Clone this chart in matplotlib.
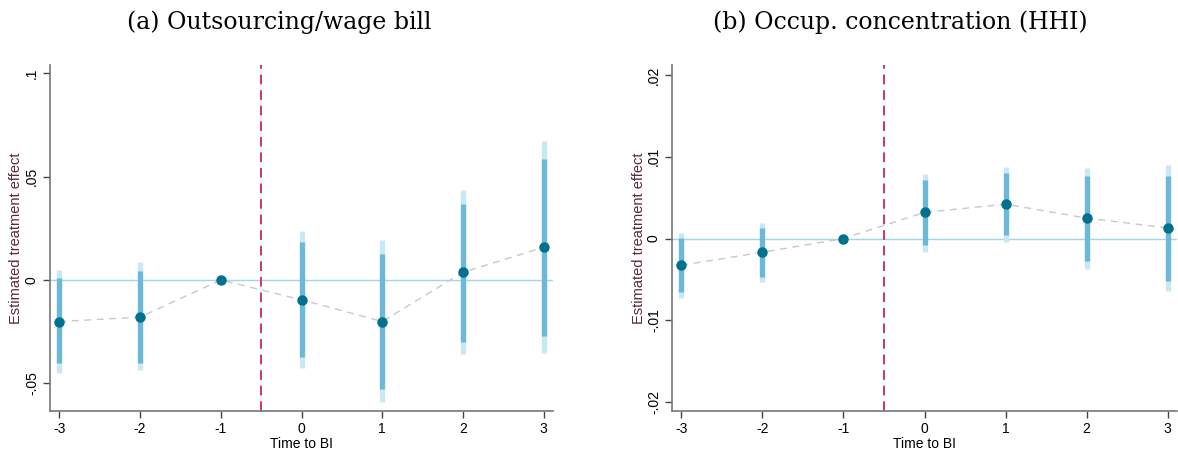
import matplotlib
matplotlib.use("Agg")
import matplotlib.pyplot as plt
import numpy as np

# event time
t = np.array([-3, -2, -1, 0, 1, 2, 3])

# (a) Outsourcing/wage bill
a_est = np.array([-0.0201, -0.0180, 0.0, -0.0096, -0.0201, 0.0037, 0.0158])
a_lo90 = np.array([-0.0403, -0.0400, 0.0, -0.0371, -0.0529, -0.0298, -0.0270])
a_hi90 = np.array([0.0008, 0.0042, 0.0, 0.0183, 0.0128, 0.0369, 0.0587])
a_lo95 = np.array([-0.0449, -0.0436, 0.0, -0.0427, -0.0592, -0.0359, -0.0354])
a_hi95 = np.array([0.0050, 0.0087, 0.0, 0.0236, 0.0191, 0.0434, 0.0670])
a_yticks = [-0.05, 0, 0.05, 0.1]
a_ylabels = ["-.05", "0", ".05", ".1"]

# (b) Occup. concentration (HHI)
b_est = np.array([-0.00326, -0.00167, 0.0, 0.0032, 0.0042, 0.0025, 0.0013])
b_lo90 = np.array([-0.0065, -0.0047, 0.0, -0.0008, 0.0004, -0.0027, -0.0052])
b_hi90 = np.array([0.0001, 0.0013, 0.0, 0.0071, 0.0080, 0.0076, 0.0077])
b_lo95 = np.array([-0.0072, -0.0053, 0.0, -0.0016, -0.0004, -0.0037, -0.0064])
b_hi95 = np.array([0.0007, 0.0019, 0.0, 0.0079, 0.0088, 0.0086, 0.0090])
b_yticks = [-0.02, -0.01, 0, 0.01, 0.02]
b_ylabels = ["-.02", "-.01", "0", ".01", ".02"]

dark = "#00708f"
mid = "#6cb8d8"
light = "#c8e8f4"
zero_c = "#9fd6ea"
vline_c = "#c83a5e"

plt.rcParams["font.family"] = ["Liberation Sans", "DejaVu Sans"]

fig = plt.figure(figsize=(11.78, 4.55), dpi=100)
axA = fig.add_axes([50 / 1178, 44 / 455, 503 / 1178, 346 / 455])
axB = fig.add_axes([672 / 1178, 44 / 455, 505 / 1178, 346 / 455])


def panel(ax, est, lo90, hi90, lo95, hi95, yticks, ylabels, ylim):
    ax.axhline(0, color=zero_c, lw=1.0, zorder=1)
    ax.axvline(-0.5, color=vline_c, lw=1.4, ls=(0, (5, 3)), zorder=1)
    ax.plot(t, est, color="#c8c8c8", lw=1.0, ls=(0, (5, 4)), zorder=2)
    ax.vlines(t, lo95, hi95, color=light, lw=3.8, zorder=3)
    ax.vlines(t, lo90, hi90, color=mid, lw=3.8, zorder=4)
    ax.plot(t, est, "o", color=dark, ms=6.5, zorder=5)
    ax.set_xlim(-3.115, 3.115)
    ax.set_ylim(*ylim)
    ax.set_xticks(t)
    ax.set_xticklabels([str(v) for v in t])
    ax.set_yticks(yticks)
    ax.set_yticklabels(ylabels, rotation=90, va="center")
    for s in ["top", "right"]:
        ax.spines[s].set_visible(False)
    for s in ["left", "bottom"]:
        ax.spines[s].set_color("#777777")
        ax.spines[s].set_linewidth(1.2)
    ax.tick_params(direction="out", length=5, width=1, color="#444444",
                   labelsize=10, pad=3)
    ax.set_xlabel("Time to BI", fontsize=10, labelpad=1)
    ax.set_ylabel("Estimated treatment effect", fontsize=10.5, color="#5a2840",
                  labelpad=1)


panel(axA, a_est, a_lo90, a_hi90, a_lo95, a_hi95, a_yticks, a_ylabels,
      (-0.0634, 0.104))
panel(axB, b_est, b_lo90, b_hi90, b_lo95, b_hi95, b_yticks, b_ylabels,
      (-0.02106, 0.0212))

fig.text(279 / 1178, 1 - 22 / 455, "(a) Outsourcing/wage bill",
         family=["DejaVu Serif"], fontsize=17,
         ha="center", va="center")
fig.text(900 / 1178, 1 - 22 / 455, "(b) Occup. concentration (HHI)",
         family=["DejaVu Serif"], fontsize=17,
         ha="center", va="center")

fig.savefig("out.png", dpi=100)
